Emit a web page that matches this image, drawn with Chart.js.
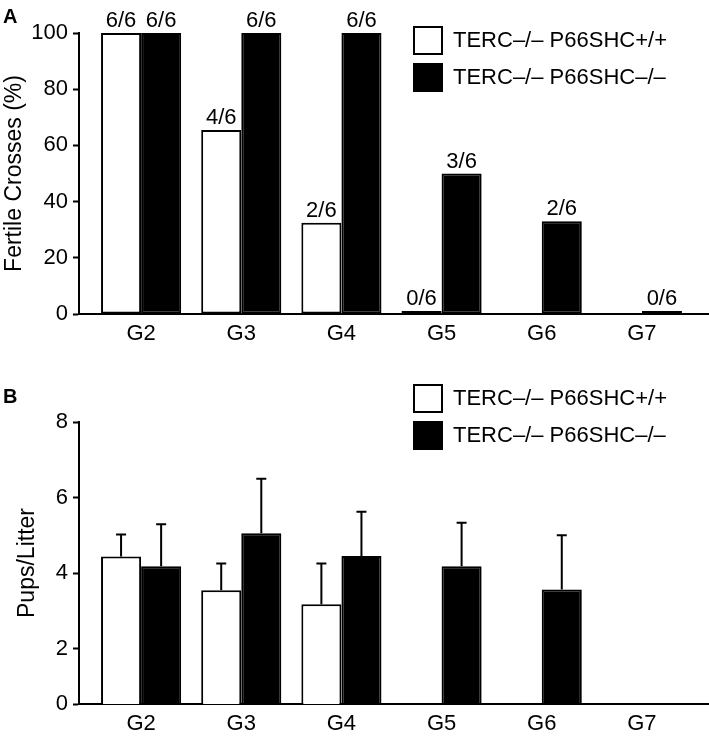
<!DOCTYPE html>
<html lang="en">
<head>
<meta charset="UTF-8">
<title>Fertile crosses and pups per litter</title>
<script src="https://cdn.jsdelivr.net/npm/chart.js"></script>
<style>
  body { margin: 0; background: #fff; }
  #wrap { position: relative; width: 709px; height: 736px; font-family: 'Liberation Sans', Arial, sans-serif; }
  canvas { position: absolute; left: 0; }
  #chartA { top: 0; }
  #chartB { top: 355px; }
  .panel { position: absolute; left: 3px; font-weight: bold; font-size: 20px; line-height: 20px; }
</style>
</head>
<body>
<div id="wrap">
  <canvas id="chartA" width="709" height="355"></canvas>
  <canvas id="chartB" width="709" height="381"></canvas>
  <div class="panel" style="top:6px">A</div>
  <div class="panel" style="top:386px">B</div>
</div>
<script>
const generations = ['G2', 'G3', 'G4', 'G5', 'G6', 'G7'];
const seriesNames = ['TERC–/– P66SHC+/+', 'TERC–/– P66SHC–/–'];

// panel A: % fertile crosses
const fertileWt = [100, 65.5, 32.5, 0, null, null];
const fertileKo = [100, 100, 100, 50, 33, 0];
const fertileWtCounts = ['6/6', '4/6', '2/6', '0/6', null, null];
const fertileKoCounts = ['6/6', '6/6', '6/6', '3/6', '2/6', '0/6'];

// panel B: pups per litter (+ upper error)
const pupsWt = [4.44, 3.54, 3.17, 0, null, null];
const pupsWtErr = [0.58, 0.71, 1.08, null, null, null];
const pupsKo = [4.18, 5.05, 4.45, 4.18, 3.56, 0];
const pupsKoErr = [1.11, 1.45, 1.17, 1.15, 1.44, null];
// the published axis is cut off: its "0" sits at about 0.53 on the 2-4-6-8 spacing
const pupsTickLabels = ['0', '2', '4', '6', '8'];
const pupsAxisMin = 0.53;

Chart.defaults.font.family = "'Liberation Sans', Arial, sans-serif";
Chart.defaults.color = '#000';

function points(values) {
    return generations.map((g, i) => ({ x: Number(g.slice(1)), y: values[i] }));
}

function barSet(label, values, fill, extra) {
    return Object.assign({
        label: label,
        data: points(values),
        backgroundColor: fill,
        borderColor: '#000',
        borderWidth: 2,
        borderSkipped: false,
        categoryPercentage: 0.8,
        barPercentage: 1.0
    }, extra);
}

function genAxis() {
    return {
        type: 'linear',
        offset: false,
        min: 1.38,
        max: 7.66,
        afterFit: s => { s.height = 30; },
        grid: { display: false, drawTicks: false },
        border: { display: true, color: '#000', width: 2 },
        ticks: {
            stepSize: 1, includeBounds: false, autoSkip: false, padding: 9,
            font: { size: 22, lineHeight: 1 },
            callback: v => generations.find(g => Number(g.slice(1)) === v) || ''
        }
    };
}

function valueAxis(title, titlePad) {
    return {
        afterFit: s => { s.width = 79; },
        grid: { drawOnChartArea: false, tickLength: 6, tickWidth: 2, tickColor: '#000' },
        border: { display: true, color: '#000', width: 2 },
        ticks: { padding: 5, font: { size: 22 } },
        title: { display: true, text: title, font: { size: 23 }, padding: { top: titlePad, bottom: 0 } }
    };
}

function placeLegend(left, top) {
    return {
        id: 'placeLegend',
        afterLayout(chart) {
            const lg = chart.legend;
            const w = lg.width, h = lg.height;
            lg.left = left; lg.right = left + w;
            lg.top = top; lg.bottom = top + h;
        }
    };
}

// n/6 counts written over the bars
const countLabels = {
    id: 'countLabels',
    afterDatasetsDraw(chart) {
        const ctx = chart.ctx;
        ctx.save();
        ctx.font = "22px 'Liberation Sans', Arial, sans-serif";
        ctx.fillStyle = '#000';
        ctx.textAlign = 'center';
        ctx.textBaseline = 'alphabetic';
        chart.data.datasets.forEach((ds, di) => {
            if (!ds.counts) return;
            chart.getDatasetMeta(di).data.forEach((bar, i) => {
                if (ds.counts[i] == null) return;
                ctx.fillText(ds.counts[i], bar.x, Math.min(bar.y, bar.base) - 6);
            });
        });
        ctx.restore();
    }
};

// one-sided error bars
const errorBars = {
    id: 'errorBars',
    afterDatasetsDraw(chart) {
        const ctx = chart.ctx;
        const yScale = chart.scales.y;
        ctx.save();
        ctx.strokeStyle = '#000';
        ctx.lineWidth = 2;
        chart.data.datasets.forEach((ds, di) => {
            if (!ds.errors) return;
            chart.getDatasetMeta(di).data.forEach((bar, i) => {
                const err = ds.errors[i];
                if (err == null) return;
                const top = yScale.getPixelForValue(ds.data[i].y + err);
                ctx.beginPath();
                ctx.moveTo(bar.x, bar.y);
                ctx.lineTo(bar.x, top);
                ctx.moveTo(bar.x - 5, top);
                ctx.lineTo(bar.x + 5, top);
                ctx.stroke();
            });
        });
        ctx.restore();
    }
};

const legendOpts = {
    position: 'chartArea',
    align: 'start',
    labels: { boxWidth: 28, boxHeight: 27, padding: 10, font: { size: 22 } }
};

// Panel A
const yA = valueAxis('Fertile Crosses (%)', 1);
yA.min = 0;
yA.max = 100;
yA.ticks.stepSize = 20;

new Chart(document.getElementById('chartA'), {
    type: 'bar',
    data: {
        datasets: [
            barSet(seriesNames[0], fertileWt, '#fff', { counts: fertileWtCounts, minBarLength: 3 }),
            barSet(seriesNames[1], fertileKo, '#000', { counts: fertileKoCounts, minBarLength: 3 })
        ]
    },
    options: {
        responsive: false,
        animation: false,
        devicePixelRatio: 1,
        layout: { padding: { top: 33, bottom: 11, left: 0, right: 1 } },
        scales: { x: genAxis(), y: yA },
        plugins: { legend: legendOpts, tooltip: { enabled: false } }
    },
    plugins: [placeLegend(404, 17), countLabels]
});

// Panel B
const yB = valueAxis('Pups/Litter', 14);
yB.min = pupsAxisMin;
yB.max = 8;
yB.ticks.stepSize = 2;
yB.ticks.includeBounds = true;
yB.ticks.callback = (v, i) => pupsTickLabels[i];

const clipBottom = { left: false, top: false, right: false, bottom: 0 };

new Chart(document.getElementById('chartB'), {
    type: 'bar',
    data: {
        datasets: [
            barSet(seriesNames[0], pupsWt, '#fff', { errors: pupsWtErr, clip: clipBottom }),
            barSet(seriesNames[1], pupsKo, '#000', { errors: pupsKoErr, clip: clipBottom })
        ]
    },
    options: {
        responsive: false,
        animation: false,
        devicePixelRatio: 1,
        layout: { padding: { top: 67, bottom: 2, left: 0, right: 1 } },
        scales: { x: genAxis(), y: yB },
        plugins: { legend: legendOpts, tooltip: { enabled: false } }
    },
    plugins: [placeLegend(404, 20), errorBars]
});
</script>
</body>
</html>
